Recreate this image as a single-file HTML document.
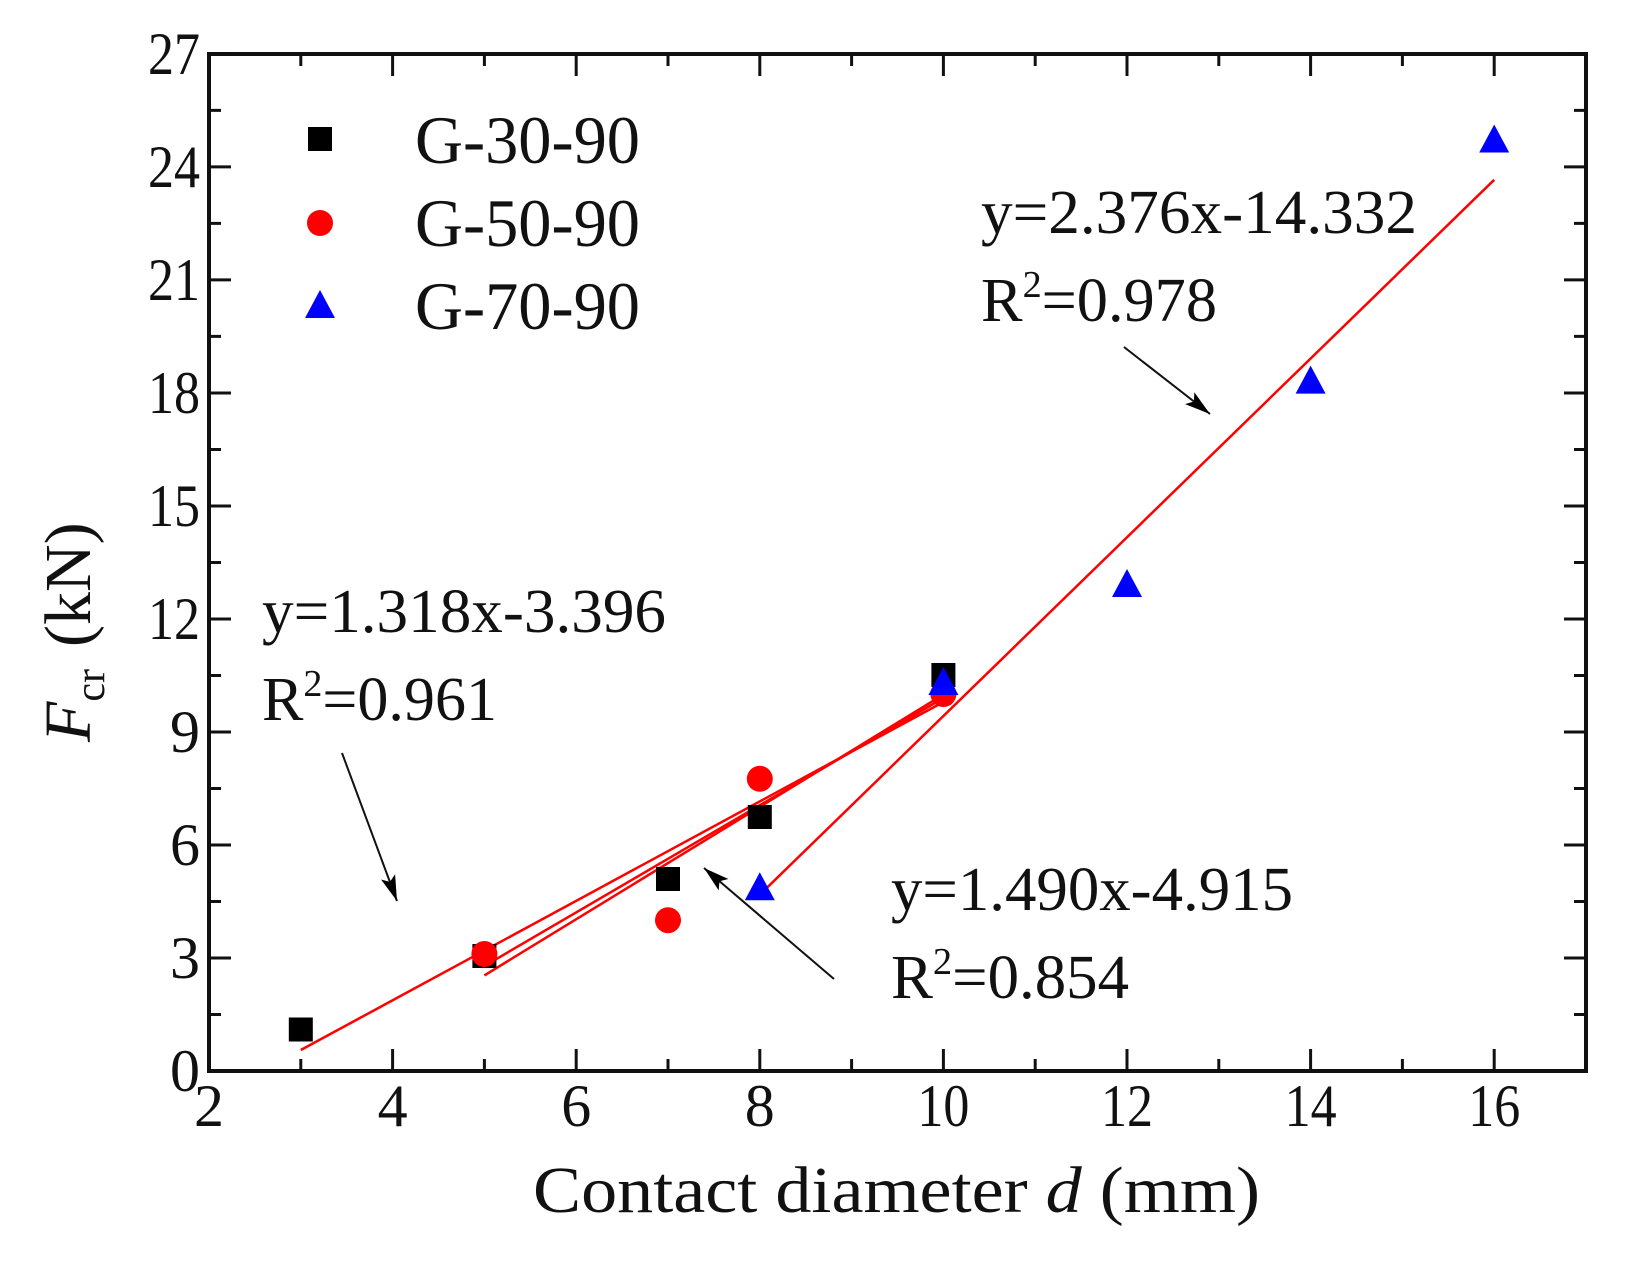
<!DOCTYPE html>
<html><head><meta charset="utf-8"><style>
html,body{margin:0;padding:0;background:#fff;}
svg{display:block;}
text{font-family:"Liberation Serif",serif;fill:#111;}
</style></head><body>
<svg width="1625" height="1261" viewBox="0 0 1625 1261" xmlns="http://www.w3.org/2000/svg">
<defs>
<marker id="ah" markerWidth="30" markerHeight="30" refX="0" refY="0" orient="auto" markerUnits="userSpaceOnUse" viewBox="-26 -8 28 16">
<path d="M0,0 L-24,-7 L-19,0 L-24,7 Z" fill="#000"/>
</marker>
</defs>
<rect x="209" y="54" width="1377" height="1017" fill="none" stroke="#111" stroke-width="4"/>
<g stroke="#111" stroke-width="3">
<path d="M392.6,1071v-22M576.2,1071v-22M759.8,1071v-22M943.4,1071v-22M1127,1071v-22M1310.6,1071v-22M1494.2,1071v-22
M300.8,1071v-12M484.4,1071v-12M668,1071v-12M851.6,1071v-12M1035.2,1071v-12M1218.8,1071v-12M1402.4,1071v-12
M392.6,54v22M576.2,54v22M759.8,54v22M943.4,54v22M1127,54v22M1310.6,54v22M1494.2,54v22
M300.8,54v12M484.4,54v12M668,54v12M851.6,54v12M1035.2,54v12M1218.8,54v12M1402.4,54v12"/>
</g>
<g id="yt" stroke="#111" stroke-width="3"></g>
<g font-size="60" text-anchor="middle">
<text x="209" y="1126">2</text><text x="392.6" y="1126">4</text><text x="576.2" y="1126">6</text><text x="759.8" y="1126">8</text><text x="943.4" y="1126" textLength="52" lengthAdjust="spacingAndGlyphs">10</text><text x="1127" y="1126" textLength="52" lengthAdjust="spacingAndGlyphs">12</text><text x="1310.6" y="1126" textLength="52" lengthAdjust="spacingAndGlyphs">14</text><text x="1494.2" y="1126" textLength="52" lengthAdjust="spacingAndGlyphs">16</text>
</g>
<g id="ylab" font-size="60" text-anchor="end"></g>
<text x="533" y="1212" font-size="66" textLength="727" lengthAdjust="spacingAndGlyphs">Contact diameter <tspan font-style="italic">d</tspan> (mm)</text>
<text transform="translate(90,742) rotate(-90)" font-size="66"><tspan font-style="italic">F</tspan><tspan font-size="42" dy="14">cr</tspan><tspan dy="-14" dx="22">(kN)</tspan></text>

<g stroke="#f00" stroke-width="2.5" fill="none">
<line x1="300.8" y1="1050" x2="943.4" y2="702"/>
<line x1="484.4" y1="975.4" x2="943.4" y2="694.6"/>
<line x1="484.4" y1="966" x2="943.4" y2="698"/>
<line x1="759.8" y1="894.7" x2="1494.2" y2="179.8"/>
</g>

<g stroke="#111" stroke-width="2">
<line x1="342" y1="753" x2="397" y2="901" marker-end="url(#ah)"/>
<line x1="834" y1="979" x2="704" y2="868" marker-end="url(#ah)"/>
<line x1="1124" y1="347" x2="1210" y2="414" marker-end="url(#ah)"/>
</g>

<g fill="#000">
<rect x="288.8" y="1017.5" width="24" height="24"/>
<rect x="472.4" y="944" width="24" height="24"/>
<rect x="656" y="867" width="24" height="24"/>
<rect x="747.8" y="805" width="24" height="24"/>
<rect x="931.4" y="663" width="24" height="24"/>
</g>
<g fill="#f00">
<circle cx="484.4" cy="954" r="13"/>
<circle cx="668" cy="920.2" r="13"/>
<circle cx="759.8" cy="778.8" r="13"/>
<circle cx="943.4" cy="694" r="13"/>
</g>
<g fill="#00f" id="tri"></g>

<rect x="308" y="127" width="24" height="24" fill="#000"/>
<circle cx="320" cy="223" r="13" fill="#f00"/>
<path d="M305,318 L335,318 L320,290 Z" fill="#00f"/>
<g font-size="68">
<text x="415" y="163" textLength="225" lengthAdjust="spacingAndGlyphs">G-30-90</text>
<text x="415" y="246" textLength="225" lengthAdjust="spacingAndGlyphs">G-50-90</text>
<text x="415" y="329" textLength="225" lengthAdjust="spacingAndGlyphs">G-70-90</text>
</g>

<g font-size="62">
<text x="981" y="233" textLength="436" lengthAdjust="spacingAndGlyphs">y=2.376x-14.332</text>
<text x="981" y="321" textLength="236" lengthAdjust="spacingAndGlyphs">R<tspan font-size="38" dy="-24">2</tspan><tspan dy="24">=0.978</tspan></text>
<text x="262" y="632" textLength="404" lengthAdjust="spacingAndGlyphs">y=1.318x-3.396</text>
<text x="262" y="720" textLength="235" lengthAdjust="spacingAndGlyphs">R<tspan font-size="38" dy="-24">2</tspan><tspan dy="24">=0.961</tspan></text>
<text x="891" y="910" textLength="402" lengthAdjust="spacingAndGlyphs">y=1.490x-4.915</text>
<text x="891" y="998" textLength="238" lengthAdjust="spacingAndGlyphs">R<tspan font-size="38" dy="-24">2</tspan><tspan dy="24">=0.854</tspan></text>
</g>
<script>
var ns="http://www.w3.org/2000/svg";
var yt=document.getElementById("yt"),yl=document.getElementById("ylab");
var d="";
for(var i=0;i<=18;i++){var v=i*1.5,y=1071-v*37.67;var L=(i%2==0)?22:12;
d+="M209,"+y+"h"+L+"M1586,"+y+"h-"+L;
if(i%2==0){var t=document.createElementNS(ns,"text");t.setAttribute("x",200);t.setAttribute("y",y+20);t.textContent=v;if(v>=10){t.setAttribute("textLength","52");t.setAttribute("lengthAdjust","spacingAndGlyphs");}yl.appendChild(t);}}
var p=document.createElementNS(ns,"path");p.setAttribute("d",d);yt.appendChild(p);
var tri=document.getElementById("tri");
[[8,4.85],[10,10.3],[12,12.9],[14,18.3],[16,24.7]].forEach(function(a){
var x=209+(a[0]-2)*91.8,y=1071-a[1]*37.67;
var q=document.createElementNS(ns,"path");q.setAttribute("d","M"+(x-15)+","+(y+12)+"L"+(x+15)+","+(y+12)+"L"+x+","+(y-16)+"Z");tri.appendChild(q);});
</script>
</svg>
</body></html>
